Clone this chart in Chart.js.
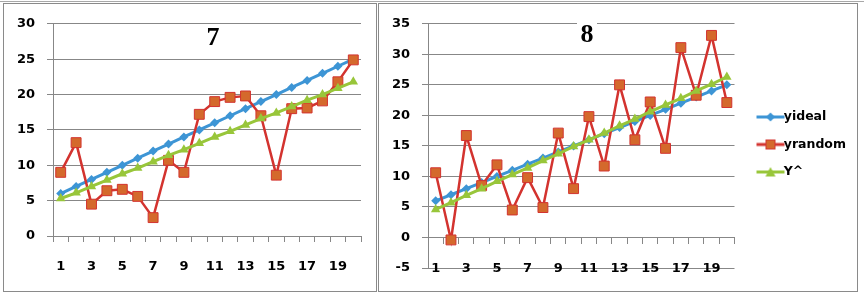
<!DOCTYPE html>
<html>
<head>
<meta charset="utf-8">
<script src="https://cdn.jsdelivr.net/npm/chart.js@4"></script>
<style>
body { margin: 0; background: #fff; }
#wrap { position: relative; width: 864px; height: 297px; overflow: hidden; }
#topline { position: absolute; left: 0; top: 1px; width: 864px; height: 1px; background: #a8a8a8; }
.panel { position: absolute; top: 3px; height: 287px; border: 1px solid #8a8a8a; }
#p1 { left: 3px; width: 372px; }
#p2 { left: 378px; width: 478px; }
canvas { display: block; }
</style>
</head>
<body>
<div id="wrap">
  <div id="topline"></div>
  <div class="panel" id="p1"><canvas id="chart-7" width="372" height="287"></canvas></div>
  <div class="panel" id="p2"><canvas id="chart-8" width="478" height="287"></canvas></div>
</div>
<script>
// x categories (same for both panels)
var labels_x = ['1','2','3','4','5','6','7','8','9','10','11','12','13','14','15','16','17','18','19','20'];
var series_names = ['yideal', 'yrandom', 'Y^'];

// panel 7
var title_7 = '7';
var yideal_7 = [6, 7, 8, 9, 10, 11, 12, 13, 14, 15, 16, 17, 18, 19, 20, 21, 22, 23, 24, 25];
var yrandom_7 = [9.0, 13.2, 4.5, 6.4, 6.6, 5.6, 2.6, 10.7, 9.0, 17.2, 19.0, 19.6, 19.8, 17.0, 8.6, 18.0, 18.1, 19.1, 21.8, 24.9];
var yhat_7 = [5.3, 6.1, 7.0, 7.9, 8.8, 9.6, 10.5, 11.4, 12.2, 13.1, 14.0, 14.8, 15.7, 16.6, 17.4, 18.3, 19.2, 20.0, 20.9, 21.8];
var yaxis_7 = [0, 30, 5]; // min, max, step

// panel 8
var title_8 = '8';
var yideal_8 = [6, 7, 8, 9, 10, 11, 12, 13, 14, 15, 16, 17, 18, 19, 20, 21, 22, 23, 24, 25];
var yrandom_8 = [10.6, -0.4, 16.7, 8.5, 11.9, 4.5, 9.8, 4.9, 17.1, 8.0, 19.8, 11.7, 25.0, 16.0, 22.2, 14.6, 31.1, 23.3, 33.1, 22.1];
var yhat_8 = [4.6, 5.7, 6.9, 8.0, 9.2, 10.3, 11.4, 12.6, 13.7, 14.9, 16.0, 17.1, 18.3, 19.4, 20.6, 21.7, 22.8, 24.0, 25.1, 26.3];
var yaxis_8 = [-5, 35, 5];

var BLUE = '#3d95d5';
var RED = '#d3332f';
var ORANGE = '#d4692c';
var GREEN = '#98c63a';
var GRID = '#878787';
var TICK_FONT = { family: 'DejaVu Sans', size: 13, weight: 'bold' };

Chart.defaults.font.family = 'DejaVu Sans';
Chart.defaults.color = '#000';

function makeDatasets(ideal, random, hat) {
  return [
    { label: series_names[0], data: ideal, borderColor: BLUE, backgroundColor: BLUE, borderWidth: 3,
      pointStyle: 'rectRot', pointRadius: 4.5, pointBorderWidth: 0, order: 3 },
    { label: series_names[1], data: random, borderColor: RED, backgroundColor: ORANGE, pointBorderColor: RED,
      borderWidth: 2.5, pointStyle: 'rect', pointRadius: 7, pointBorderWidth: 1, order: 2 },
    { label: series_names[2], data: hat, borderColor: GREEN, backgroundColor: GREEN, borderWidth: 3,
      pointStyle: 'triangle', pointRadius: 5.5, pointBorderWidth: 0, order: 1 }
  ];
}

function makeScales(yr, xAtZero) {
  var x = {
    type: 'category',
    offset: true,
    position: xAtZero ? { y: 0 } : 'bottom',
    grid: { offset: true, drawOnChartArea: false, drawTicks: true, tickLength: 6, color: GRID, tickColor: GRID },
    border: { color: GRID, width: 1 },
    ticks: {
      autoSkip: false, maxRotation: 0, padding: 17, color: '#000', font: TICK_FONT,
      callback: function (v, i) { return i % 2 === 0 ? this.getLabelForValue(v) : ''; }
    }
  };
  if (!xAtZero) x.afterFit = function (s) { s.height = 55; };
  return {
    x: x,
    y: {
      min: yr[0], max: yr[1],
      grid: { color: GRID, tickLength: 6, tickColor: GRID },
      border: { color: GRID, width: 1 },
      ticks: { stepSize: yr[2], padding: 12, color: '#000', font: TICK_FONT },
      afterFit: function (s) { s.width = 49; }
    }
  };
}

// title drawn inside the plot, like the spreadsheet chart
var panelTitle = {
  id: 'panelTitle',
  beforeDatasetsDraw: function (chart, args, opts) {
    var ctx = chart.ctx;
    ctx.save();
    if (opts.clear) {
      ctx.fillStyle = '#fff';
      ctx.fillRect(opts.x - 10, opts.y - 20, 20, 36);
    }
    ctx.font = 'bold 26px "Liberation Serif"';
    ctx.fillStyle = '#000';
    ctx.textAlign = 'center';
    ctx.textBaseline = 'middle';
    ctx.fillText(opts.text, opts.x, opts.y);
    ctx.restore();
  }
};

// legend icons: short line with the marker in the middle (left part of canvas left blank)
function legendIcon(kind) {
  var c = document.createElement('canvas');
  c.width = 44; c.height = 12;
  var g = c.getContext('2d');
  var col = kind === 0 ? BLUE : kind === 1 ? RED : GREEN;
  var x0 = 15, mid = 29;
  g.strokeStyle = col;
  g.lineWidth = 3;
  g.beginPath(); g.moveTo(x0, 6); g.lineTo(x0 + 28, 6); g.stroke();
  if (kind === 0) {
    g.fillStyle = BLUE;
    g.beginPath(); g.moveTo(mid, 1.5); g.lineTo(mid + 4.5, 6); g.lineTo(mid, 10.5); g.lineTo(mid - 4.5, 6); g.closePath(); g.fill();
  } else if (kind === 1) {
    g.fillStyle = ORANGE;
    g.fillRect(mid - 5, 1, 10, 10);
    g.strokeStyle = RED; g.lineWidth = 1;
    g.strokeRect(mid - 4.5, 1.5, 9, 9);
  } else {
    g.fillStyle = GREEN;
    g.beginPath(); g.moveTo(mid, 1); g.lineTo(mid + 5, 10.5); g.lineTo(mid - 5, 10.5); g.closePath(); g.fill();
  }
  return c;
}
var legendIcons = [legendIcon(0), legendIcon(1), legendIcon(2)];

new Chart(document.getElementById('chart-7').getContext('2d'), {
  type: 'line',
  data: { labels: labels_x, datasets: makeDatasets(yideal_7, yrandom_7, yhat_7) },
  options: {
    responsive: false,
    animation: false,
    devicePixelRatio: 1,
    layout: { padding: { top: 17, right: 15, bottom: 0, left: 0 } },
    plugins: {
      legend: { display: false },
      tooltip: { enabled: false },
      panelTitle: { text: title_7, x: 209, y: 34, clear: false }
    },
    scales: makeScales(yaxis_7, false)
  },
  plugins: [panelTitle]
});

new Chart(document.getElementById('chart-8').getContext('2d'), {
  type: 'line',
  data: { labels: labels_x, datasets: makeDatasets(yideal_8, yrandom_8, yhat_8) },
  options: {
    responsive: false,
    animation: false,
    devicePixelRatio: 1,
    layout: { padding: { top: 17, right: 4, bottom: 23, left: 0 } },
    plugins: {
      legend: {
        display: true,
        position: 'right',
        labels: {
          usePointStyle: true,
          pointStyleWidth: 28,
          boxHeight: 12,
          padding: 15,
          color: '#000',
          font: { family: 'DejaVu Sans', size: 12.5, weight: 'bold' },
          generateLabels: function (chart) {
            return chart.data.datasets.map(function (ds, i) {
              return { text: ds.label, pointStyle: legendIcons[i], datasetIndex: i, hidden: false,
                       lineWidth: 0, fillStyle: 'rgba(0,0,0,0)', strokeStyle: 'rgba(0,0,0,0)', fontColor: '#000' };
            });
          }
        }
      },
      tooltip: { enabled: false },
      panelTitle: { text: title_8, x: 208, y: 31, clear: true }
    },
    scales: makeScales(yaxis_8, true)
  },
  plugins: [panelTitle]
});
</script>
</body>
</html>
